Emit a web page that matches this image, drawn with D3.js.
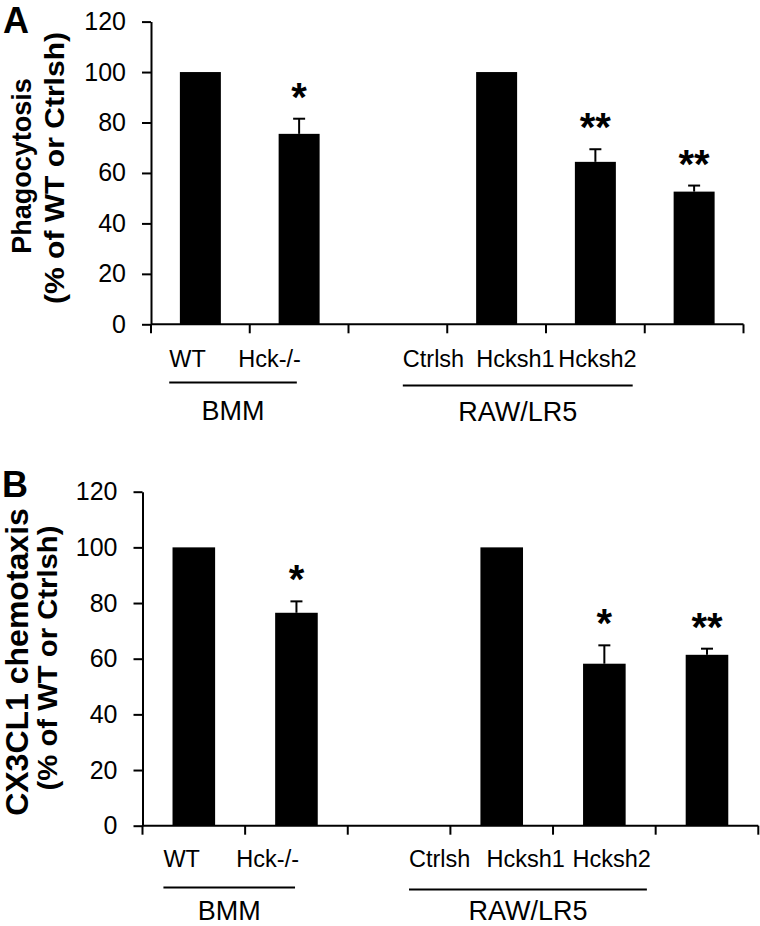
<!DOCTYPE html>
<html><head><meta charset="utf-8">
<script src="https://cdn.jsdelivr.net/npm/d3@7"></script>
<style>
body{margin:0;background:#fff}
svg{display:block}
text{font-family:Arial,"Liberation Sans",sans-serif;fill:#000}
</style>
</head><body>
<script>
// ---- data ----
const categories = ["WT", "Hck-/-", "", "Ctrlsh", "Hcksh1", "Hcksh2"];
const groups = [
  {name: "BMM", first: 0, last: 1},
  {name: "RAW/LR5", first: 3, last: 5}
];
const yTicks = [0, 20, 40, 60, 80, 100, 120];

const phagoValues = [100, 75.5, null, 100, 64.4, 52.6];
const phagoErrors = [0, 6.0, null, 0, 5.0, 2.4];
const phagoStars  = ["", "*", "", "", "**", "**"];

const chemoValues = [100, 76.5, null, 100, 58.2, 61.4];
const chemoErrors = [0, 4.1, null, 0, 6.6, 2.2];
const chemoStars  = ["", "*", "", "", "*", "**"];

// ---- layout ----
const panels = [
  {letter: "A", letterX: 3, letterY: 33,
   title: ["Phagocytosis", "(% of WT or Ctrlsh)"],
   titleX: [31, 64], titleY: [166, 168], titleSize: [27, 27], titleLen: [null, 272],
   values: phagoValues, errors: phagoErrors, stars: phagoStars,
   x0: 151, x1: 743.5, y0: 324.3, y1: 21.6,
   labelStart: 187.5, labelStep: 82, labelY: 367,
   lineY: [382.5, 385.5], groupY: [420, 421]},
  {letter: "B", letterX: 2, letterY: 497,
   title: ["CX3CL1 chemotaxis", "(% of WT or Ctrlsh)"],
   titleX: [28, 57], titleY: [662, 658], titleSize: [32, 27], titleLen: [null, 265],
   values: chemoValues, errors: chemoErrors, stars: chemoStars,
   x0: 142.5, x1: 758.3, y0: 825.7, y1: 491.7,
   labelStart: 181.7, labelStep: 86, labelY: 867,
   lineY: [887.5, 889.5], groupY: [920, 920]}
];

const svg = d3.select("body").append("svg").attr("width", 760).attr("height", 926);

panels.forEach(p => {
  const g = svg.append("g");
  const y = d3.scaleLinear().domain([0, 120]).range([p.y0, p.y1]);
  const x = d3.scaleBand().domain(categories).range([p.x0, p.x1])
    .paddingInner(0.585).paddingOuter(0.2925);
  const lx = d3.scaleLinear().domain([0, 1]).range([p.labelStart, p.labelStart + p.labelStep]);

  // panel letter
  g.append("text").attr("x", p.letterX).attr("y", p.letterY)
    .attr("font-size", 36).attr("font-weight", "bold").text(p.letter);

  // y title
  p.title.forEach((t, i) => {
    const tt = g.append("text")
      .attr("transform", `translate(${p.titleX[i]},${p.titleY[i]}) rotate(-90)`)
      .attr("text-anchor", "middle").attr("font-size", p.titleSize[i]).attr("font-weight", "bold")
      .text(t);
    if (p.titleLen[i]) tt.attr("textLength", p.titleLen[i]).attr("lengthAdjust", "spacingAndGlyphs");
  });

  // y axis
  const ya = g.append("g").attr("transform", `translate(${p.x0},0)`)
    .call(d3.axisLeft(y).tickValues(yTicks).tickSize(9).tickSizeOuter(0).tickPadding(16));
  ya.selectAll("path,line").attr("stroke", "#000").attr("stroke-width", 2);
  ya.selectAll("text").attr("font-size", 25).attr("font-family", "Arial, 'Liberation Sans', sans-serif").attr("fill", "#000");

  // bars
  const data = categories.map((c, i) => ({c, i, v: p.values[i], e: p.errors[i], s: p.stars[i]}))
    .filter(d => d.v != null);
  g.selectAll("rect.bar").data(data).join("rect").attr("class", "bar")
    .attr("x", d => x(d.c)).attr("width", x.bandwidth())
    .attr("y", d => y(d.v)).attr("height", d => y(0) - y(d.v))
    .attr("fill", "#000");

  // error bars (upper only)
  const ed = data.filter(d => d.e > 0);
  const cx = d => x(d.c) + x.bandwidth() / 2;
  g.selectAll("line.err").data(ed).join("line").attr("class", "err")
    .attr("x1", cx).attr("x2", cx)
    .attr("y1", d => y(d.v)).attr("y2", d => y(d.v + d.e))
    .attr("stroke", "#000").attr("stroke-width", 2);
  g.selectAll("line.cap").data(ed).join("line").attr("class", "cap")
    .attr("x1", d => cx(d) - 6).attr("x2", d => cx(d) + 6)
    .attr("y1", d => y(d.v + d.e)).attr("y2", d => y(d.v + d.e))
    .attr("stroke", "#000").attr("stroke-width", 2);

  // significance stars
  g.selectAll("text.star").data(data.filter(d => d.s)).join("text").attr("class", "star")
    .attr("x", cx)
    .attr("y", d => y(d.v + d.e) - 8)
    .attr("text-anchor", "middle").attr("font-size", 40).attr("font-weight", "bold")
    .text(d => d.s);

  // x axis with boundary ticks
  g.append("line").attr("x1", p.x0).attr("x2", p.x1).attr("y1", y(0)).attr("y2", y(0))
    .attr("stroke", "#000").attr("stroke-width", 2);
  const bounds = d3.range(categories.length + 1).map(i => p.x0 + i * x.step());
  g.selectAll("line.xt").data(bounds).join("line").attr("class", "xt")
    .attr("x1", d => d).attr("x2", d => d).attr("y1", y(0)).attr("y2", y(0) + 9)
    .attr("stroke", "#000").attr("stroke-width", 2);

  // category labels
  const labs = categories.map((c, i) => ({c, i})).filter(d => d.c);
  const lt = g.selectAll("text.cat").data(labs).join("text").attr("class", "cat")
    .attr("x", d => lx(d.i)).attr("y", p.labelY)
    .attr("text-anchor", "middle").attr("font-size", 23.5).text(d => d.c);
  const widths = {};
  lt.each(function(d) { widths[d.i] = this.getComputedTextLength(); });

  // group lines and labels
  groups.forEach((gr, k) => {
    const left = lx(gr.first) - widths[gr.first] / 2;
    const right = lx(gr.last) + widths[gr.last] / 2 - 4;
    g.append("line").attr("x1", left).attr("x2", right)
      .attr("y1", p.lineY[k]).attr("y2", p.lineY[k])
      .attr("stroke", "#000").attr("stroke-width", 2);
    g.append("text").attr("x", (left + right) / 2).attr("y", p.groupY[k])
      .attr("text-anchor", "middle").attr("font-size", 27).text(gr.name);
  });
});
</script>
</body></html>
